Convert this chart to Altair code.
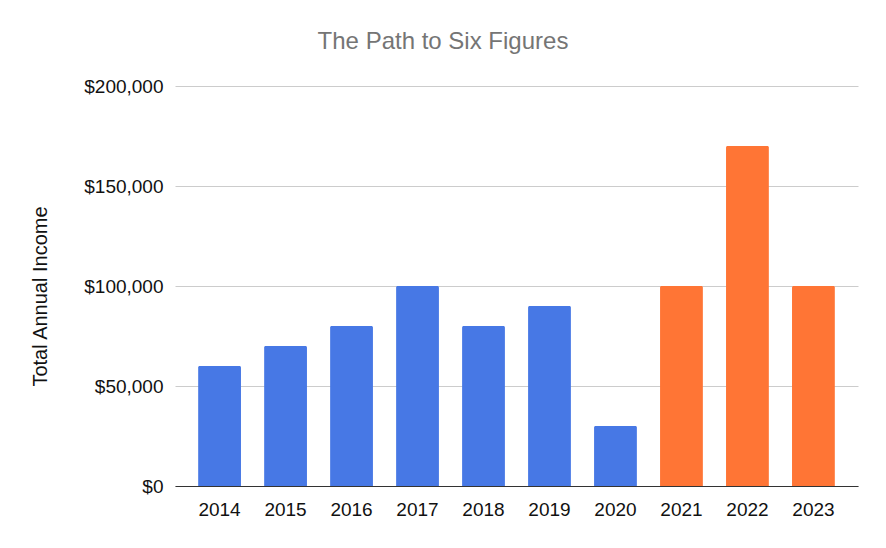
import altair as alt
import pandas as pd

years = ["2014", "2015", "2016", "2017", "2018", "2019", "2020", "2021", "2022", "2023"]
income = [60000, 70000, 80000, 100000, 80000, 90000, 30000, 100000, 170000, 100000]
period = ["past", "past", "past", "past", "past", "past", "past", "recent", "recent", "recent"]
y_ticks = [0, 50000, 100000, 150000, 200000]

df = pd.DataFrame({"Year": years, "Income": income, "Period": period})

FONT = "Liberation Sans"

chart = alt.Chart(df).mark_bar(
    cornerRadiusTopLeft=1.5, cornerRadiusTopRight=1.5
).encode(
    x=alt.X("Year:N", sort=years, title=None,
            scale=alt.Scale(paddingInner=0.35, paddingOuter=0.35),
            axis=alt.Axis(labelAngle=0, ticks=False, domain=True, domainColor="#333333",
                          domainWidth=1, labelFontSize=19, labelFont=FONT,
                          labelColor="#111111", labelPadding=14, zindex=1, grid=False)),
    y=alt.Y("Income:Q", title="Total Annual Income",
            scale=alt.Scale(domain=[0, 200000], nice=False),
            axis=alt.Axis(values=y_ticks, format="$,.0f", ticks=False, domain=False,
                          grid=True, gridColor="#cccccc", gridWidth=1,
                          labelFontSize=19, labelFont=FONT, labelColor="#111111",
                          labelPadding=12, titleFont=FONT, titleFontSize=20,
                          titleFontWeight="normal", titleColor="#111111",
                          titleAngle=-90, titleAlign="center", titleBaseline="alphabetic",
                          titleX=-129, titleY=210)),
    color=alt.Color("Period:N", legend=None,
                    scale=alt.Scale(domain=["past", "recent"], range=["#4778E5", "#FF7535"])),
).properties(
    width=683,
    height=400,
    background="white",
    title=alt.TitleParams("The Path to Six Figures", anchor="middle", dx=-73.5,
                          font=FONT, fontSize=24, fontWeight="normal", color="#757575",
                          offset=4, baseline="alphabetic"),
    autosize=alt.AutoSizeParams(type="none"),
    padding={"left": 167, "top": 78, "right": 20, "bottom": 46},
).configure_view(stroke="transparent", strokeWidth=0)

chart.save("out.html", embed_options={"renderer": "svg", "actions": False})
